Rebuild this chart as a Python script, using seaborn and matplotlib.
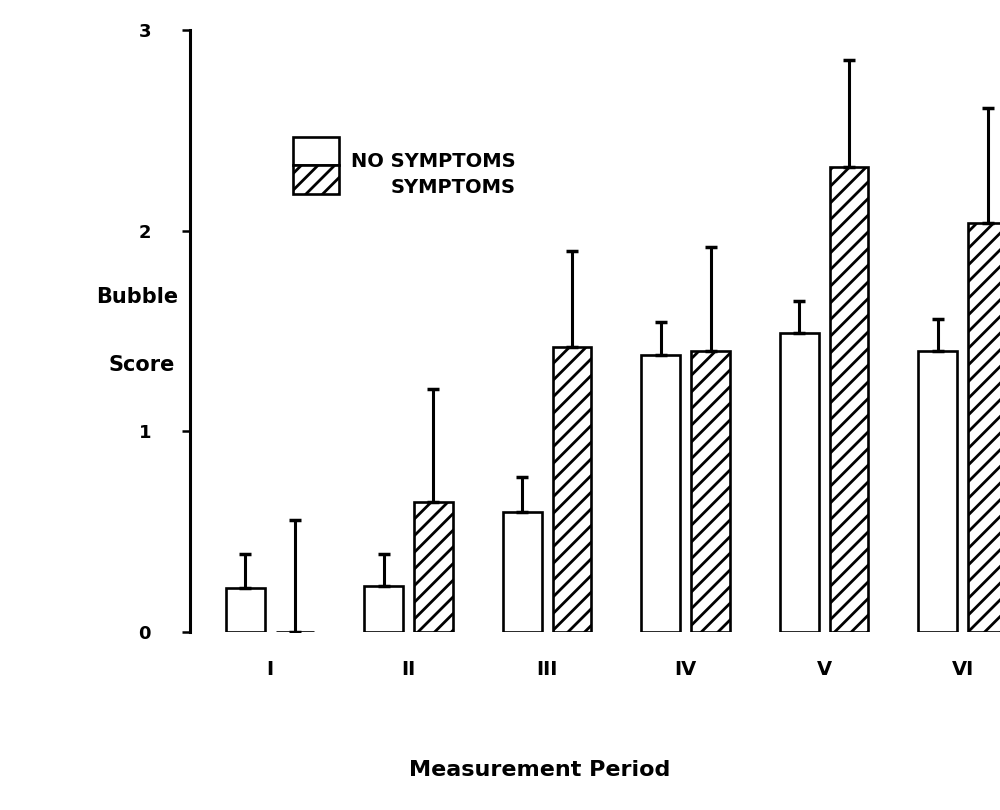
# Imports
import pandas as pd
import seaborn as sns
import matplotlib.pyplot as plt
from matplotlib.patches import Rectangle

periods = ['I', 'II', 'III', 'IV', 'V', 'VI']
no_symptoms = [0.22, 0.23, 0.60, 1.38, 1.49, 1.40]
no_symptoms_err = [0.17, 0.16, 0.17, 0.165, 0.16, 0.16]
symptoms = [0.0, 0.65, 1.42, 1.40, 2.32, 2.04]
symptoms_err = [0.56, 0.56, 0.48, 0.52, 0.53, 0.57]
groups = ['NO SYMPTOMS', 'SYMPTOMS']

sns.set_style('white')
plt.rcParams['font.family'] = ['DejaVu Sans']
plt.rcParams['text.color'] = 'black'
plt.rcParams['xtick.color'] = 'black'
plt.rcParams['ytick.color'] = 'black'
plt.rcParams['hatch.linewidth'] = 2.0
plt.rcParams['hatch.color'] = 'black'

data = pd.DataFrame({
    'period': periods * 2,
    'score': no_symptoms + symptoms,
    'group': [groups[0]] * 6 + [groups[1]] * 6,
})

fig = plt.figure(figsize=(10, 8.1), dpi=100)
ax = fig.add_axes([0.19, 0.2198, 0.81, 0.743])

sns.barplot(x='period', y='score', hue='group', data=data, ax=ax,
            palette=['white', 'white'], edgecolor='black', linewidth=1.9,
            errorbar=None, width=0.72, gap=0.22, legend=False)

for p in ax.containers[1]:
    p.set_hatch('//')

# one-sided error bars on top of the bars
for cont, errs in zip(ax.containers, [no_symptoms_err, symptoms_err]):
    xs = [p.get_x() + p.get_width() / 2 for p in cont]
    hs = [p.get_height() for p in cont]
    ax.errorbar(xs, hs, yerr=[[0] * len(errs), errs], fmt='none',
                ecolor='black', elinewidth=2.2, capsize=4.5, capthick=2.5)

ax.set_xlim(-0.578, 5.27)
ax.set_ylim(0, 3)
ax.set_yticks([0, 1, 2, 3])
ax.set_yticklabels(['0', '1', '2', '3'], fontsize=13, fontweight='bold')
ax.set_xticks(range(6))
ax.set_xticklabels(periods, fontsize=14, fontweight='bold')
ax.tick_params(axis='x', length=0, pad=20)
ax.tick_params(axis='y', direction='out', length=6, width=1.8, pad=22, left=True)
ax.set_xlabel('')
ax.set_ylabel('')
for s in ['top', 'right', 'bottom']:
    ax.spines[s].set_visible(False)
ax.spines['left'].set_linewidth(2.2)
ax.spines['left'].set_color('black')

# Legend drawn by hand
ax.add_patch(Rectangle((0.127, 0.776), 0.057, 0.047, transform=ax.transAxes,
                       facecolor='white', edgecolor='black', lw=1.9, clip_on=False))
ax.add_patch(Rectangle((0.127, 0.728), 0.057, 0.048, transform=ax.transAxes,
                       facecolor='white', edgecolor='black', lw=1.9, hatch='//', clip_on=False))
ax.text(0.402, 0.782, 'NO SYMPTOMS', transform=ax.transAxes, ha='right', va='center',
        fontsize=14, fontweight='bold')
ax.text(0.402, 0.738, 'SYMPTOMS', transform=ax.transAxes, ha='right', va='center',
        fontsize=14, fontweight='bold')

fig.text(0.137, 0.633, 'Bubble', ha='center', va='center', fontsize=15, fontweight='bold')
fig.text(0.142, 0.549, 'Score', ha='center', va='center', fontsize=15, fontweight='bold')
fig.text(0.54, 0.049, 'Measurement Period', ha='center', va='center', fontsize=16, fontweight='bold')

fig.savefig('out.png', dpi=100, facecolor='white')
